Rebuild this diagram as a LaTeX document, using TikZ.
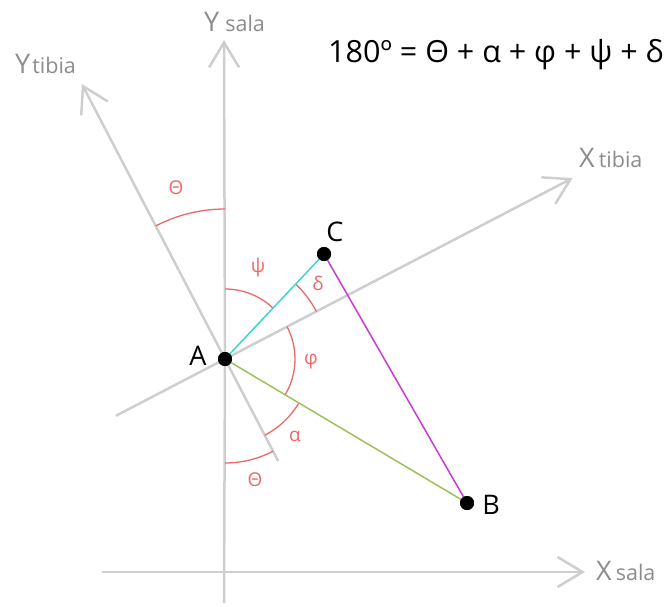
\documentclass[tikz,border=0pt]{standalone}
\usepackage{fontspec}
\setmainfont{Open Sans}
\usetikzlibrary{arrows.meta,calc}
\definecolor{axisgray}{RGB}{206,206,206}
\definecolor{labelgray}{RGB}{140,140,140}
\definecolor{arcred}{RGB}{234,105,105}
\definecolor{segcyan}{RGB}{60,215,200}
\definecolor{segmag}{RGB}{200,60,210}
\definecolor{segolive}{RGB}{160,190,90}
\newcommand{\biglet}[1]{{\fontsize{27}{27}\selectfont #1}}
\newcommand{\smalltxt}[1]{{\fontsize{21.5}{21.5}\selectfont #1}}
\begin{document}
\begin{tikzpicture}[x=1pt,y=1pt,
  axis/.style={draw=axisgray, line width=2.5pt},
  axisarrow/.style={axis, -{Straight Barb[length=25pt,width=30pt]}},
  anglearc/.style={draw=arcred, line width=1.3pt},
  anglelabel/.style={text=arcred, font=\fontsize{19}{19}\selectfont, inner sep=0pt},
  axislabel/.style={text=labelgray, inner sep=0pt, anchor=base west},
  pointlabel/.style={font=\fontsize{27}{27}\selectfont, inner sep=0pt},
  dot/.style={circle, fill=black, inner sep=0pt, minimum size=14pt},
  seg/.style={line width=1.5pt}]
\useasboundingbox (0,0) rectangle (666,606);

\coordinate (O) at (225,247);
% axes
\coordinate (YsBot) at (224,3);
\coordinate (YsTip) at (224,566);
\coordinate (XsLeft) at (102,34);
\coordinate (XsTip) at (585,34);
\coordinate (YtBot) at ($(O)+(-62.5:115)$);
\coordinate (YtTip) at ($(O)+(117.5:310)$);
\coordinate (XtLeft) at ($(O)+(207.5:123)$);
\coordinate (XtTip) at ($(O)+(27.5:392)$);
\draw[axis] (YsBot) -- (O);
\draw[axisarrow] (O) -- (YsTip);
\draw[axisarrow] (XsLeft) -- (XsTip);
\draw[axis] (YtBot) -- (O);
\draw[axisarrow] (O) -- (YtTip);
\draw[axis] (XtLeft) -- (O);
\draw[axisarrow] (O) -- (XtTip);

% axis labels
\node[axislabel] (lYs) at (204,574) {\biglet{Y}\hspace{6pt}\smalltxt{sala}};
\node[axislabel] (lYt) at (15,532) {\biglet{Y}\hspace{2pt}\smalltxt{tibia}};
\node[axislabel] (lXt) at (579,438) {\biglet{X}\hspace{4pt}\smalltxt{tibia}};
\node[axislabel] (lXs) at (596,26) {\biglet{X}\hspace{4pt}\smalltxt{sala}};

% angle arcs
\draw[anglearc] ($(O)+(90:150)$) arc[start angle=90, end angle=117.5, radius=150pt];
\draw[anglearc] ($(O)+(46.7:70)$) arc[start angle=46.7, end angle=90, radius=70pt];
\draw[anglearc] ($(O)+(27.5:103)$) arc[start angle=27.5, end angle=46.7, radius=103pt];
\draw[anglearc] ($(O)+(-30.75:70)$) arc[start angle=-30.75, end angle=27.5, radius=70pt];
\draw[anglearc] ($(O)+(-62.5:86)$) arc[start angle=-62.5, end angle=-30.75, radius=86pt];
\draw[anglearc] ($(O)+(-90:104)$) arc[start angle=-90, end angle=-62.5, radius=104pt];

\node[anglelabel] (tTh1) at (176,418) {Θ};
\node[anglelabel] (tPsi) at (258,338) {ψ};
\node[anglelabel] (tDel) at (318,323) {δ};
\node[anglelabel] (tPhi) at (311,244) {φ};
\node[anglelabel] (tAlp) at (295,170) {α};
\node[anglelabel] (tTh2) at (255,126) {Θ};

% points and segments
\node[dot] (A) at (O) {};
\node[dot] (C) at (324,352) {};
\node[dot] (B) at (467,103) {};
\draw[seg, segcyan] (A.center) -- (C.center);
\draw[seg, segmag] (C.center) -- (B.center);
\draw[seg, segolive] (A.center) -- (B.center);
\node[dot] at (A) {};
\node[dot] at (C) {};
\node[dot] at (B) {};

\node[pointlabel] (lA) at (198,250) {A};
\node[pointlabel] (lC) at (335,374) {C};
\node[pointlabel] (lB) at (491,101) {B};

% equation
\node[anchor=base west, inner sep=0pt, font=\fontsize{30.5}{30.5}\selectfont] (eq) at (328,543) {180º = Θ + α + φ + ψ + δ};
\end{tikzpicture}
\end{document}
